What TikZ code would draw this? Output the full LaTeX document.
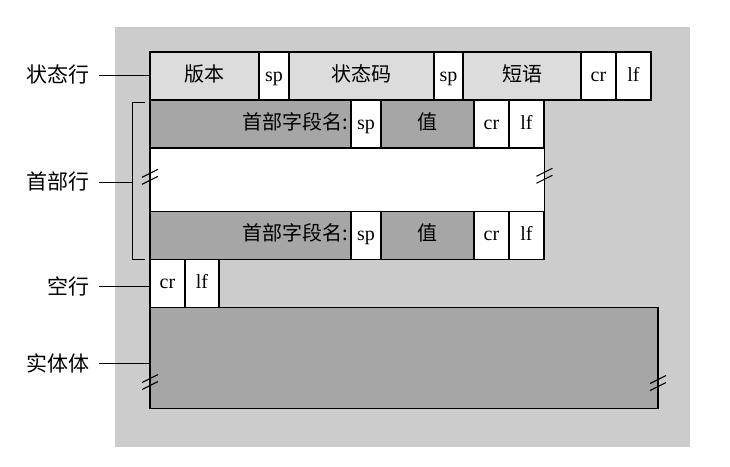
\documentclass[tikz,border=0pt]{standalone}
\usepackage{fontspec}
\setmainfont{Liberation Serif}
\newfontfamily\cjk{Noto Sans CJK SC}
\usetikzlibrary{positioning}
\definecolor{panelgray}{RGB}{204,204,204}
\definecolor{litegray}{RGB}{220,220,220}
\definecolor{darkgray}{RGB}{166,166,166}
\begin{document}
\begin{tikzpicture}[x=1pt,y=-1pt,
    every node/.style={font=\fontsize{20}{24}\selectfont},
    cell/.style={draw, line width=1.1pt, minimum height=48pt, inner sep=0pt, outer sep=0pt, anchor=west, text height=15pt, text depth=5pt},
    lite/.style={cell, fill=litegray},
    dark/.style={cell, fill=darkgray},
    wcell/.style={cell, fill=white},
    namecell/.style={dark, anchor=north west, text width=195pt, align=right, inner xsep=3pt},
    lbl/.style={inner sep=0pt, anchor=east, font=\fontsize{21}{24}\selectfont},
    lead/.style={line width=1pt, shorten <=9pt},
    brk/.style={line width=1.1pt}]
    \useasboundingbox (0,0) rectangle (730,466);
    \fill[panelgray] (115,27) rectangle (690,447);
    \node[lite, minimum width=109pt] (ver) at (150,76) {\cjk 版本};
    \node[wcell, minimum width=30pt, right=0pt of ver] (sp1) {sp};
    \node[lite, minimum width=145pt, right=0pt of sp1] (code) {\cjk 状态码};
    \node[wcell, minimum width=29pt, right=0pt of code] (sp2) {sp};
    \node[lite, minimum width=118pt, right=0pt of sp2] (phr) {\cjk 短语};
    \node[wcell, minimum width=35pt, right=0pt of phr] (cr1) {cr};
    \node[wcell, minimum width=35pt, right=0pt of cr1] (lf1) {lf};
    \node[namecell] (nm1) at (ver.south west) {\cjk 首部字段名:};
    \node[wcell, minimum width=30pt, right=0pt of nm1] (sp3) {sp};
    \node[dark, minimum width=93pt, right=0pt of sp3] (val1) {\cjk 值};
    \node[wcell, minimum width=35pt, right=0pt of val1] (cr2) {cr};
    \node[wcell, minimum width=35pt, right=0pt of cr2] (lf2) {lf};
    \node[fill=white, minimum width=394pt, minimum height=62pt, inner sep=0pt, anchor=north west] (gap) at ([yshift=-0.6pt]nm1.south west) {};
    \draw[line width=1.1pt] (gap.north west) -- (gap.south west);
    \draw[line width=1.1pt] (gap.north east) -- (gap.south east);
    \node[namecell] (nm2) at ([yshift=-0.6pt]gap.south west) {\cjk 首部字段名:};
    \node[wcell, minimum width=30pt, right=0pt of nm2] (sp4) {sp};
    \node[dark, minimum width=93pt, right=0pt of sp4] (val2) {\cjk 值};
    \node[wcell, minimum width=35pt, right=0pt of val2] (cr3) {cr};
    \node[wcell, minimum width=35pt, right=0pt of cr3] (lf3) {lf};
    \node[wcell, minimum width=35pt, anchor=north west] (cr4) at (nm2.south west) {cr};
    \node[wcell, minimum width=34pt, right=0pt of cr4] (lf4) {lf};
    \node[dark, minimum width=508pt, minimum height=101pt, anchor=north west] (body) at (cr4.south west) {};
    \coordinate (bt) at ([xshift=-18pt, yshift=-2pt]nm1.north west);
    \coordinate (bb) at ([xshift=-18pt]nm2.south west);
    \draw[line width=1pt] ([xshift=13pt]bt) -- (bt) -- (bb) -- ([xshift=13pt]bb);
    \foreach \p/\dy in {gap.west/-3, gap.east/-4, body.west/24, body.east/25}
        \foreach \s in {-3.5,3.5}
            \draw[brk] ([shift={(-8,\dy+\s+4)}]\p) -- ++(16,-8);
    \node[lbl] (lst) at (90,75) {\cjk 状态行};
    \node[lbl] (lhd) at (90,182) {\cjk 首部行};
    \node[lbl] (lbk) at (90,286) {\cjk 空行};
    \node[lbl] (lbd) at (90,363) {\cjk 实体体};
    \draw[lead] (lst.east) -- (lst.east -| ver.west);
    \draw[lead] (lhd.east) -- (lhd.east -| bt);
    \draw[lead] (lbk.east) -- (lbk.east -| cr4.west);
    \draw[lead] (lbd.east) -- (lbd.east -| body.west);
\end{tikzpicture}
\end{document}
